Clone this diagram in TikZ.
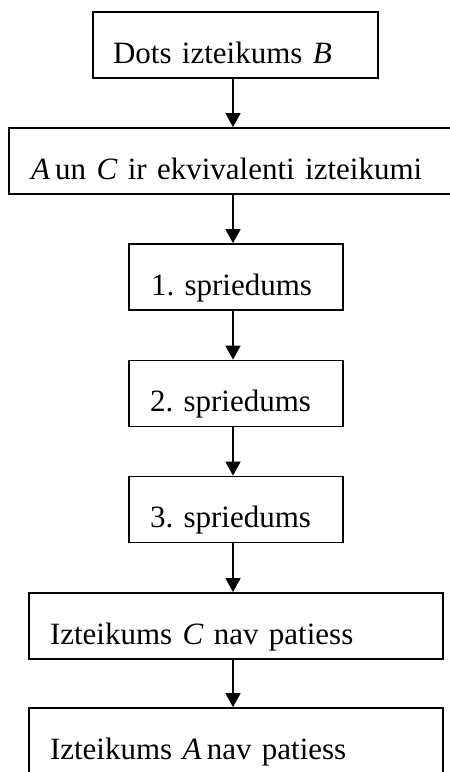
\documentclass[tikz,border=0pt]{standalone}
\usepackage{fontspec}
\setmainfont{Liberation Serif}
\usetikzlibrary{arrows.meta}
\begin{document}
\frenchspacing
\begin{tikzpicture}[x=1pt,y=-1pt,
  box/.style={draw,line width=1.8pt,rectangle,inner ysep=0pt,text height=51pt,text depth=15pt,align=left,font=\fontsize{31}{36}\selectfont},
  arr/.style={line width=1.6pt,-{Triangle[width=15pt,length=14pt]}}]
\useasboundingbox (0,0) rectangle (450,772);
\node[box,inner xsep=20pt,text width=245pt] (b1) at (235.5,45) {Dots izteikums \textit{B}};
\node[box,inner xsep=22pt,text width=407pt] (b2) at (234.5,161) {\textit{A}\,un \textit{C} ir ekvivalenti izteikumi};
\node[box,inner xsep=22pt,text width=170pt] (b3) at (236,277) {1. spriedums};
\node[box,inner xsep=21pt,text width=172pt] (b4) at (236,393.5) {2. spriedums};
\node[box,inner xsep=21pt,text width=172pt] (b5) at (236,509.5) {3. spriedums};
\node[box,inner xsep=21pt,text width=372pt] (b6) at (236,626) {Izteikums \textit{C} nav patiess};
\node[box,inner xsep=21pt,text width=372pt] (b7) at (236,741) {Izteikums \textit{A}\,nav patiess};
\coordinate (ax) at (233,0);
\draw[arr] (b1.south -| ax) -- (b2.north -| ax);
\draw[arr] (b2.south -| ax) -- (b3.north -| ax);
\draw[arr] (b3.south -| ax) -- (b4.north -| ax);
\draw[arr] (b4.south -| ax) -- (b5.north -| ax);
\draw[arr] (b5.south -| ax) -- (b6.north -| ax);
\draw[arr] (b6.south -| ax) -- (b7.north -| ax);
\end{tikzpicture}
\end{document}
